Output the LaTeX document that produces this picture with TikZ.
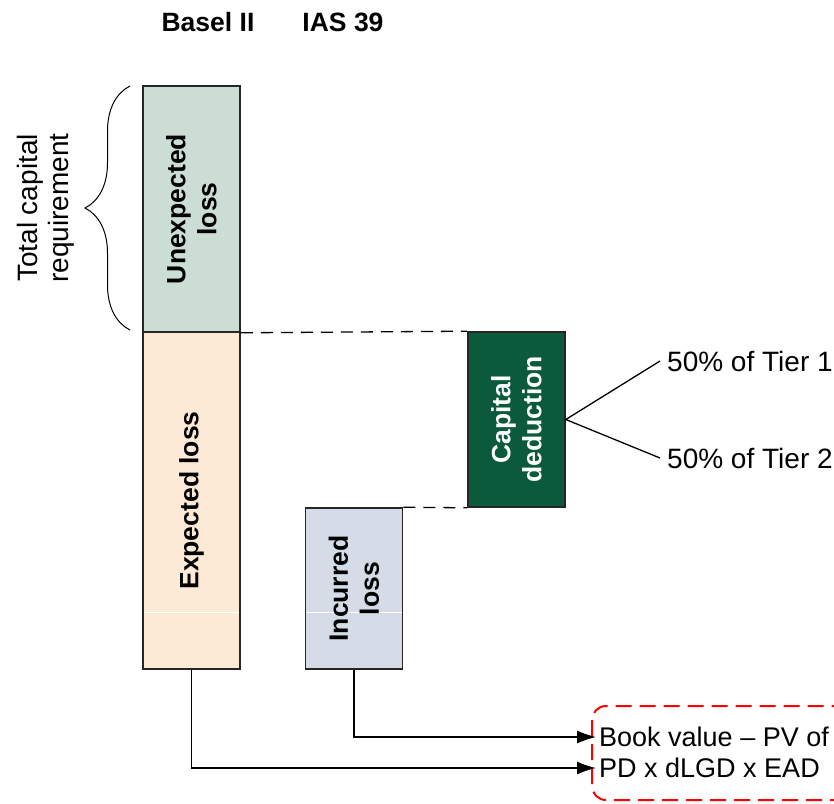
\documentclass[tikz,border=0pt]{standalone}
\usepackage{fontspec}
\setmainfont{Liberation Sans}
\usetikzlibrary{arrows.meta,decorations.pathreplacing}
\definecolor{ulfill}{HTML}{CCDDD5}
\definecolor{elfill}{HTML}{FDEAD6}
\definecolor{ilfill}{HTML}{D5DCE8}
\definecolor{cdfill}{HTML}{0B5A3C}
\tikzset{
  every node/.style={font=\fontsize{28}{31}\selectfont},
  box/.style={draw=black!85, line width=1.6pt, minimum width=97pt, inner sep=0pt},
  boxtext/.style={rotate=90, align=center, font=\fontsize{26.5}{31}\selectfont\bfseries},
  formula/.style={anchor=west, inner sep=3pt, font=\fontsize{27}{31}\selectfont},
  level/.style={line width=1.3pt, dash pattern=on 12pt off 8pt},
  conn/.style={line width=1.3pt, -{Latex[length=19pt,width=13pt]}},
}
\begin{document}
\begin{tikzpicture}[x=1pt, y=-1pt]
  \useasboundingbox (0,0) rectangle (834,803);
  % headers
  \node[font=\fontsize{26.5}{31}\selectfont\bfseries] (basel) at (208,22) {Basel II};
  \node[font=\fontsize{26.5}{31}\selectfont\bfseries] (ias) at (343,22) {IAS 39};
  % boxes
  \node[box, fill=ulfill, minimum height=246pt] (ul) at (191.5,209) {};
  \node[box, fill=elfill, minimum height=337pt] (el) at (191.5,500.5) {};
  \node[box, fill=ilfill, minimum height=161pt] (il) at (354,588.5) {};
  \node[box, fill=cdfill, minimum height=175pt] (cd) at (516.5,419.5) {};
  \draw[white, line width=.8pt] (144,612) -- (239,612);
  \draw[white, line width=.8pt] (306,612) -- (402,612);
  \node[boxtext] (ult) at (ul) {Unexpected\\loss};
  \node[boxtext] (elt) at (el) {Expected loss};
  \node[boxtext] (ilt) at (il) {Incurred\\loss};
  \node[boxtext, text=white] (cdt) at (cd) {Capital\\deduction};
  % dashed levels
  \draw[level] (ul.south east) -- (cd.north west);
  \draw[level] (il.north east) -- (cd.south west);
  % brace
  \draw[line width=1pt, decorate, decoration={brace, amplitude=45pt}] (130,330) -- (130,86);
  \node[rotate=90, align=center] (tcr) at (46,208) {Total capital\\requirement};
  % tiers
  \node[anchor=west, inner sep=7pt] (t1) at (660,361) {50\% of Tier 1};
  \node[anchor=west, inner sep=7pt] (t2) at (660,458) {50\% of Tier 2};
  \draw[line width=1.3pt] (t1.west) -- (cd.east) -- (t2.west);
  % formulas
  \draw[red, line width=2pt, dash pattern=on 16pt off 8pt, rounded corners=14pt] (592,706) rectangle (870,800);
  \node[formula] (bv) at (596,737) {Book value -- PV of};
  \node[formula] (pd) at (596,768) {PD x dLGD x EAD};
  \draw[conn] (il.south) |- (bv.west);
  \draw[conn] (el.south) |- (pd.west);
\end{tikzpicture}
\end{document}
